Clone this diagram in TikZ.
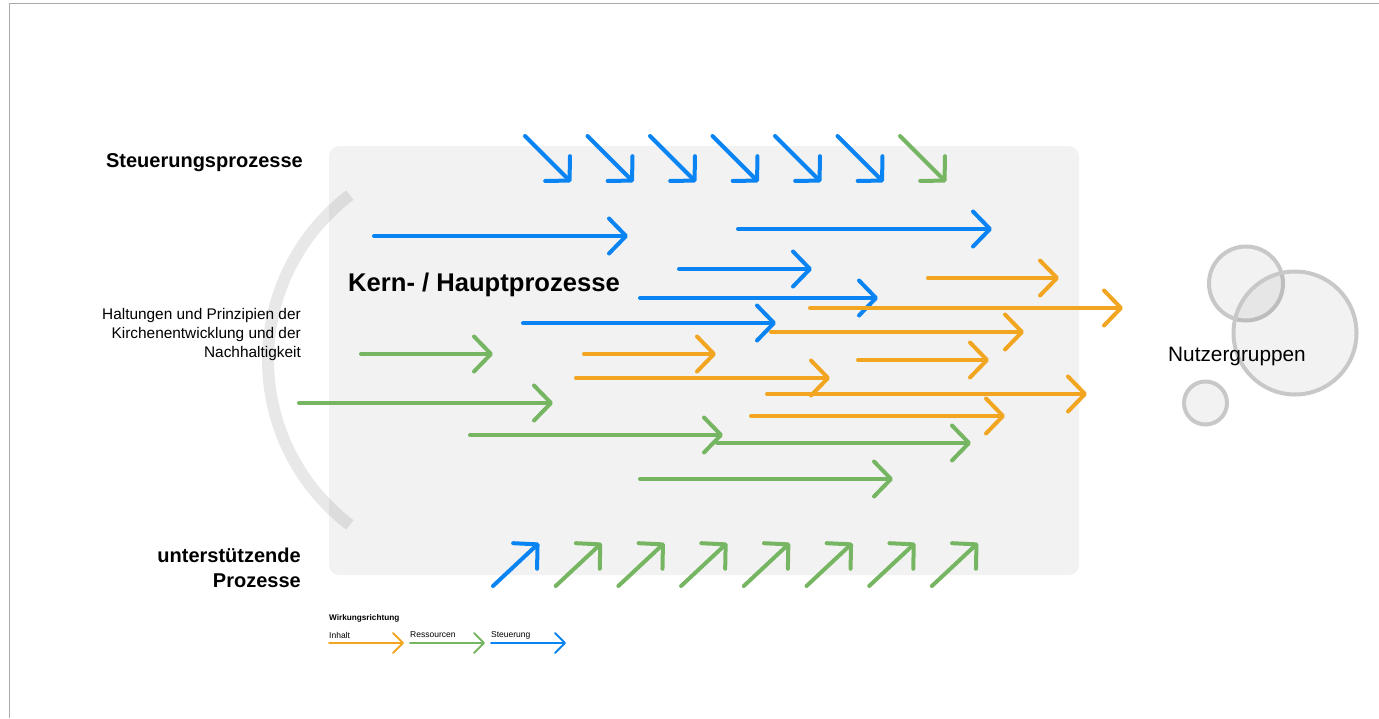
\documentclass[tikz,border=0pt]{standalone}
\usepackage{fontspec}
\setmainfont{Liberation Sans}
\usetikzlibrary{arrows.meta}
\definecolor{cblue}{RGB}{10,132,242}
\definecolor{corange}{RGB}{242,165,32}
\definecolor{cgreen}{RGB}{118,182,98}
\definecolor{cpanel}{RGB}{242,242,242}
\definecolor{cring}{RGB}{200,200,200}
\definecolor{cframe}{RGB}{170,170,170}
\begin{document}
\begin{tikzpicture}[x=1pt,y=-1pt,
  flow/.style={line width=4pt, line cap=round,
    -{Straight Barb[length=17pt,width=35pt,round]}},
  steuer/.style={flow, draw=cblue},
  inhalt/.style={flow, draw=corange},
  ressource/.style={flow, draw=cgreen},
  keyflow/.style={line width=2pt, line cap=round,
    -{Straight Barb[length=10pt,width=20pt,round]}},
  heading/.style={font=\fontsize{20}{25}\selectfont\bfseries, align=right, anchor=east, inner sep=0pt},
  group/.style={draw=cring, line width=4pt, fill=black, fill opacity=0.05},
  keytext/.style={font=\fontsize{8.5}{10}\selectfont, anchor=west, inner sep=0pt}
]
\useasboundingbox (0,0) rectangle (1379,718);

% frame lines
\draw[cframe, line width=1pt] (9.5,718) -- (9.5,3.5) -- (1379,3.5);

% core process panel
\fill[cpanel, rounded corners=10pt] (329,146) rectangle (1079,575);

% arc of attitudes and principles
\draw[black, draw opacity=0.09, line width=12pt] (475,360) ++(-127.2:207)
  arc[start angle=-127.2, end angle=-232.8, radius=207];

% headings
\node[heading] (steuerung) at (303,162.5) {Steuerungsprozesse};
\node[heading] (unterst) at (301,568) {unterstützende\\Prozesse};
\node[font=\fontsize{25.6}{28}\selectfont\bfseries, anchor=west, inner sep=0pt] (kern) at (348,284.5) {Kern- / Hauptprozesse};
\node[font=\fontsize{15.4}{19}\selectfont, align=right, anchor=east, inner sep=0pt] (haltung) at (301,334.5)
  {Haltungen und Prinzipien der\\Kirchenentwicklung und der\\Nachhaltigkeit};

% top steering arrows
\foreach \i in {0,...,5}
  \draw[steuer] (525+62.5*\i,136) -- ++(46,46);
\draw[ressource] (900,136) -- ++(46,46);

% bottom supporting arrows
\draw[steuer] (493,586) -- ++(46,-43);
\foreach \i in {1,...,7}
  \draw[ressource] (493+62.7*\i,586) -- ++(46,-43);

% steering flows
\draw[steuer] (374,236) -- (628,236);
\draw[steuer] (738,229) -- (992,229);
\draw[steuer] (679,269) -- (812,269);
\draw[steuer] (640,298) -- (878,298);
\draw[steuer] (523,323) -- (776,323);

% content flows
\draw[inhalt] (928,278) -- (1059,278);
\draw[inhalt] (810,308) -- (1123,308);
\draw[inhalt] (771,332) -- (1024,332);
\draw[inhalt] (584,354) -- (716,354);
\draw[inhalt] (858,360) -- (989,360);
\draw[inhalt] (576,378) -- (830,378);
\draw[inhalt] (767,394) -- (1087,394);
\draw[inhalt] (751,416) -- (1005,416);

% resource flows
\draw[ressource] (361,354) -- (493,354);
\draw[ressource] (299,403) -- (553,403);
\draw[ressource] (470,435) -- (723,435);
\draw[ressource] (717,443) -- (971,443);
\draw[ressource] (640,479) -- (893,479);

% user groups
\draw[group] (1246,283.5) circle[radius=37];
\draw[group] (1295,333) circle[radius=61.5];
\draw[group] (1205.5,403) circle[radius=21.5];
\node[font=\fontsize{20.8}{24}\selectfont, anchor=west, inner sep=0pt] (nutzer) at (1168,356) {Nutzergruppen};

% key
\node[keytext, font=\fontsize{8.2}{10}\selectfont\bfseries] (keytitle) at (329,618) {Wirkungsrichtung};
\node[keytext] (kinhalt) at (329,635) {Inhalt};
\node[keytext] (kress) at (410,635) {Ressourcen};
\node[keytext] (ksteuer) at (491,635) {Steuerung};
\draw[keyflow, corange] (329,643) -- (404,643);
\draw[keyflow, cgreen] (410,643) -- (485,643);
\draw[keyflow, cblue] (491,643) -- (566,643);
\end{tikzpicture}
\end{document}
